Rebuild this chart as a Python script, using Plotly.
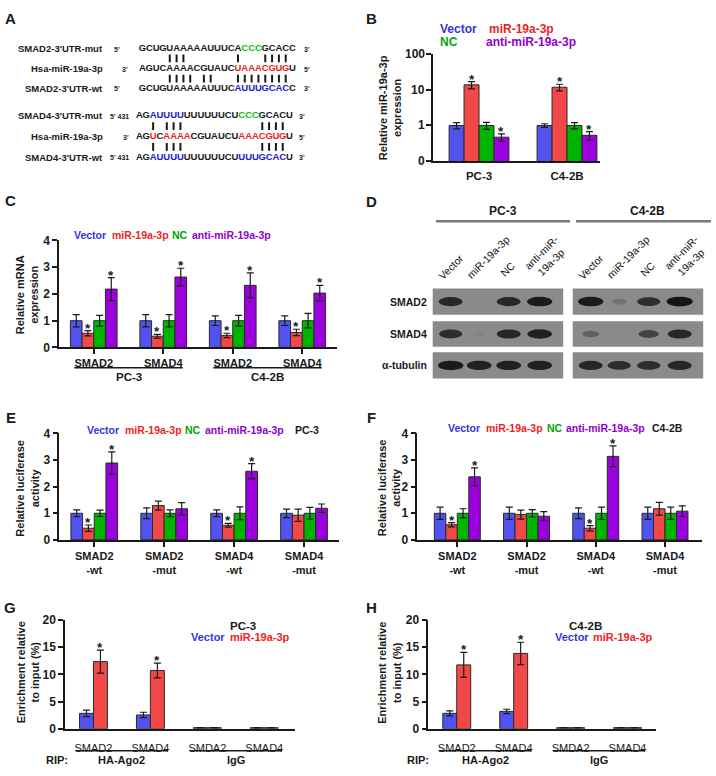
import plotly.graph_objects as go
import numpy as np

W, H = 716, 776
FONT = "Liberation Sans, Arial, Helvetica, sans-serif"
INK = "#1a1a1a"
BAR_COLORS = {"vector": "#5252ee", "mir": "#f24848", "nc": "#00b400", "anti": "#9b00de"}
TXT_COLORS = {"vector": "#3434e0", "mir": "#ee1e1e", "nc": "#00a500", "anti": "#9000d0", "k": INK}
SEQ_COLORS = {"k": "#1a1a1a", "r": "#ee1e1e", "b": "#2020c8", "g": "#10c010"}

# ---------------- DATA ----------------
# Panel A: sequences, per-character colour codes, and paired positions
seq_smad2_mut = "GCUGUAAAAAUUUCACCCGCACC"
seq_mir = "AGUCAAAACGUAUCUAAACGUGU"
seq_smad2_wt = "GCUGUAAAAAUUUCAUUUGCACC"
seq_smad4_mut = "AGAUUUUUUUUUUCUCCCGCACU"
seq_smad4_wt = "AGAUUUUUUUUUUCUUUUGCACU"
col_smad2_mut = "k" * 15 + "ggg" + "k" * 5
col_mir_smad2 = "k" * 14 + "r" * 8 + "k"
col_smad2_wt = "k" * 14 + "b" * 8 + "k"
col_smad4_mut = "kk" + "bbbbb" + "k" * 8 + "ggg" + "k" * 5
col_mir_smad4 = "kk" + "r" + "k" + "rrrr" + "k" * 7 + "r" * 7 + "k"
col_smad4_wt = "kk" + "bbbbb" + "k" * 8 + "b" * 7 + "k"
pairs_smad2_mut = [4, 5, 6, 14, 18, 19, 20, 21]
pairs_smad2_wt = [4, 5, 6, 7, 9, 10, 14, 15, 16, 17, 18, 19, 20, 21]
pairs_smad4_mut = [2, 4, 5, 6, 18, 19, 20, 21]
pairs_smad4_wt = [2, 4, 5, 6, 18, 19, 20, 21]

# Panel B
b_groups = ["PC-3", "C4-2B"]
b_vector = [1.0, 1.0]; b_vector_err = [0.2, 0.12]
b_mir = [13.8, 11.8]; b_mir_err = [3.2, 2.5]
b_nc = [1.0, 1.0]; b_nc_err = [0.22, 0.2]
b_anti = [0.47, 0.53]; b_anti_err = [0.11, 0.14]
b_mir_sig = [True, True]; b_anti_sig = [True, True]
b_ticks = [0.1, 1, 10, 100]; b_ticktext = ["0", "1", "10", "100"]

# Panel C
c_groups = ["SMAD2", "SMAD4", "SMAD2", "SMAD4"]
c_cells = ["PC-3", "C4-2B"]
c_vector = [1.0, 1.0, 1.0, 1.0]; c_vector_err = [0.23, 0.23, 0.18, 0.18]
c_mir = [0.53, 0.42, 0.45, 0.56]; c_mir_err = [0.1, 0.07, 0.08, 0.12]
c_nc = [1.0, 1.0, 1.0, 1.0]; c_nc_err = [0.2, 0.23, 0.2, 0.27]
c_anti = [2.18, 2.63, 2.32, 2.03]; c_anti_err = [0.43, 0.33, 0.47, 0.29]
c_mir_sig = [True, True, True, True]; c_anti_sig = [True, True, True, True]

# Panel D: western blot band intensities (0-1), rows = proteins, cols = lanes
d_lanes = ["Vector", "miR-19a-3p", "NC", "anti-miR-<br>19a-3p"]
d_proteins = ["SMAD2", "SMAD4", "α-tubulin"]
d_pc3 = [[0.85, 0.0, 0.85, 0.95], [0.8, 0.05, 0.85, 0.9], [0.95, 0.9, 0.9, 0.9]]
d_c42b = [[0.95, 0.2, 0.8, 1.0], [0.35, 0.0, 0.6, 0.85], [0.85, 0.8, 0.8, 0.85]]

# Panel E (PC-3 luciferase)
e_groups = ["SMAD2<br>-wt", "SMAD2<br>-mut", "SMAD4<br>-wt", "SMAD4<br>-mut"]
e_vector = [1.0, 1.0, 1.0, 1.0]; e_vector_err = [0.13, 0.2, 0.13, 0.16]
e_mir = [0.44, 1.29, 0.55, 0.93]; e_mir_err = [0.12, 0.17, 0.07, 0.23]
e_nc = [1.0, 1.0, 1.0, 1.0]; e_nc_err = [0.12, 0.13, 0.24, 0.22]
e_anti = [2.89, 1.17, 2.58, 1.19]; e_anti_err = [0.42, 0.23, 0.29, 0.16]
e_mir_sig = [True, False, True, False]; e_anti_sig = [True, False, True, False]

# Panel F (C4-2B luciferase)
f_groups = e_groups
f_vector = [1.0, 1.0, 1.0, 1.0]; f_vector_err = [0.23, 0.23, 0.2, 0.23]
f_mir = [0.57, 0.95, 0.44, 1.17]; f_mir_err = [0.08, 0.17, 0.1, 0.24]
f_nc = [1.0, 1.0, 1.0, 1.0]; f_nc_err = [0.17, 0.14, 0.23, 0.23]
f_anti = [2.37, 0.89, 3.14, 1.08]; f_anti_err = [0.34, 0.17, 0.39, 0.2]
f_mir_sig = [True, False, True, False]; f_anti_sig = [True, False, True, False]

# Panel G / H (RIP)
g_groups = ["SMAD2", "SMAD4", "SMDA2", "SMAD4"]
rip_groups = ["HA-Ago2", "IgG"]
g_vector = [2.83, 2.53, 0.2, 0.2]; g_vector_err = [0.6, 0.5, 0.03, 0.03]
g_mir = [12.35, 10.72, 0.2, 0.2]; g_mir_err = [2.1, 1.35, 0.03, 0.03]
h_vector = [2.83, 3.19, 0.2, 0.2]; h_vector_err = [0.45, 0.4, 0.03, 0.03]
h_mir = [11.75, 13.86, 0.2, 0.2]; h_mir_err = [2.3, 2.05, 0.03, 0.03]
gh_mir_sig = [True, True, False, False]
no_sig = [False, False, False, False]

# ---------------- HELPERS ----------------
def X(px): return px / W
def Y(py): return 1 - py / H

fig = go.Figure()
annotations, shapes = [], []
layout = {}

def ann(text, px, py, size=11, bold=True, color=INK, xanchor="center", yanchor="middle", angle=0, align="center"):
    annotations.append(dict(text=f"<b>{text}</b>" if bold else text, x=X(px), y=Y(py),
                            xref="paper", yref="paper", showarrow=False, xanchor=xanchor,
                            yanchor=yanchor, textangle=angle, align=align, borderpad=0,
                            font=dict(family=FONT, size=size, color=color)))

def sfx(i): return "" if i == 1 else str(i)

def setup_axes(i, box, xr, yr, ticktext, ytickvals, yticktext, ylog=False,
               xticks=True, xbold=True, xfont=11, xticklen=5):
    x0, x1, y0, y1 = box
    s = sfx(i)
    layout["xaxis" + s] = dict(domain=[X(x0), X(x1)], range=xr, anchor="y" + s,
        tickmode="array", tickvals=list(range(len(ticktext))), ticktext=ticktext,
        showline=True, linecolor=INK, linewidth=1.5, ticks="outside", ticklen=xticklen,
        tickwidth=1.5, tickcolor=INK if xticks else "rgba(0,0,0,0)", showgrid=False,
        zeroline=False, fixedrange=True,
        tickfont=dict(family=FONT, size=xfont, color=INK, weight="bold" if xbold else "normal"))
    layout["yaxis" + s] = dict(domain=[Y(y1), Y(y0)], range=yr, anchor="x" + s,
        type="log" if ylog else "linear", tickmode="array", tickvals=ytickvals,
        ticktext=yticktext, showline=True, linecolor=INK, linewidth=1.5, ticks="outside",
        ticklen=5, tickwidth=1.5, tickcolor=INK, showgrid=False, zeroline=False,
        fixedrange=True, ticklabeloverflow="allow",
        tickfont=dict(family=FONT, size=12, color=INK, weight="bold"))

def add_bars(i, groups, series, width, ylog=False):
    s = sfx(i)
    n, m = len(groups), len(series)
    for k, (key, vals, errs, sig) in enumerate(series):
        off = (k - (m - 1) / 2) * width
        xs = np.arange(n) + off
        fig.add_trace(go.Bar(x=xs, y=vals, width=width,
            marker=dict(color=BAR_COLORS[key], line=dict(color="#2a2a2a", width=1)),
            error_y=dict(type="data", array=errs, visible=True, color=INK, thickness=1.2, width=3.5),
            xaxis="x" + s, yaxis="y" + s, showlegend=False, hoverinfo="skip"))
        for xi, v, e, sg in zip(xs, vals, errs, sig):
            if sg:
                yv = v + e
                annotations.append(dict(text="<b>*</b>", x=xi, y=float(np.log10(yv)) if ylog else yv,
                    xref="x" + s, yref="y" + s, showarrow=False, xanchor="center", yanchor="bottom",
                    yshift=-6, borderpad=0, font=dict(family=FONT, size=13.5, color=INK)))

def legend_items(items, py, size=11):
    for text, key, px in items:
        ann(text, px, py, size=size, color=TXT_COLORS[key], xanchor="left")

# ---------------- PANEL LETTERS ----------------
for letter, px, py in [("A", 10, 12), ("B", 372, 12), ("C", 10, 197), ("D", 372, 198),
                       ("E", 11, 418), ("F", 371, 418), ("G", 10, 612), ("H", 372, 612)]:
    ann(letter, px, py, size=15)

# ---------------- PANEL A ----------------
A_BOX = (100, 320, 30, 165)
layout["xaxis9"] = dict(domain=[X(A_BOX[0]), X(A_BOX[1])], range=[A_BOX[0], A_BOX[1]],
                        visible=False, fixedrange=True, anchor="y9")
layout["yaxis9"] = dict(domain=[Y(A_BOX[3]), Y(A_BOX[2])], range=[A_BOX[3], A_BOX[2]],
                        visible=False, fixedrange=True, anchor="x9")
STEP = 6.82
rows = [  # seq, colours, y, first-char centre x
    (seq_smad2_mut, col_smad2_mut, 42.5, 142.5),
    (seq_mir, col_mir_smad2, 63.0, 142.5),
    (seq_smad2_wt, col_smad2_wt, 83.0, 142.5),
    (seq_smad4_mut, col_smad4_mut, 111.0, 139.5),
    (seq_mir, col_mir_smad4, 132.0, 139.5),
    (seq_smad4_wt, col_smad4_wt, 153.0, 139.5),
]
for seq, cols, yy, x0 in rows:
    fig.add_trace(go.Scatter(x=[x0 + STEP * j for j in range(len(seq))], y=[yy] * len(seq),
        mode="text", text=list(seq), textposition="middle center", cliponaxis=False,
        textfont=dict(family=FONT, size=9.5, color=[SEQ_COLORS[c] for c in cols], weight="bold"),
        xaxis="x9", yaxis="y9", showlegend=False, hoverinfo="skip"))
pair_rows = [(pairs_smad2_mut, 52.3, 142.5), (pairs_smad2_wt, 73.0, 142.5),
             (pairs_smad4_mut, 121.3, 139.5), (pairs_smad4_wt, 142.5, 139.5)]
for pairs, yc, x0 in pair_rows:
    xs, ys = [], []
    for p in pairs:
        xs += [x0 + STEP * p, x0 + STEP * p, None]
        ys += [yc - 4, yc + 4, None]
    fig.add_trace(go.Scatter(x=xs, y=ys, mode="lines", line=dict(color=INK, width=2),
        xaxis="x9", yaxis="y9", showlegend=False, hoverinfo="skip", cliponaxis=False))

for text, py in [("SMAD2-3'UTR-mut", 42.5), ("Hsa-miR-19a-3p", 63), ("SMAD2-3'UTR-wt", 83),
                 ("SMAD4-3'UTR-mut", 111), ("Hsa-miR-19a-3p", 132), ("SMAD4-3'UTR-wt", 153)]:
    ann(text, 104, py, size=9.5, xanchor="right")
for text, px, py in [("5'", 117, 43), ("3'", 124.5, 63.5), ("5'", 117, 83.5),
                     ("5' 431", 120, 111.5), ("3'", 126, 132.5), ("5' 431", 120, 153.5),
                     ("3'", 306.5, 43), ("5'", 306.5, 63.5), ("3'", 306.5, 83.5),
                     ("3'", 301.5, 111.5), ("5'", 301.5, 132.5), ("3'", 301.5, 153.5)]:
    ann(text, px, py, size=7)

# ---------------- PANEL B ----------------
B_BOX = (433, 600, 48, 157)
B_YRANGE = [-1.0, 2.0]
setup_axes(1, B_BOX, [-0.523, 1.375], B_YRANGE, b_groups,
           b_ticks, b_ticktext, ylog=True, xticks=False, xfont=11.5, xticklen=3)
layout["yaxis"]["showticklabels"] = False
for tv, tt in zip(b_ticks, b_ticktext):   # decade labels, placed along the log axis
    frac = (np.log10(tv) - B_YRANGE[0]) / (B_YRANGE[1] - B_YRANGE[0])
    py = B_BOX[3] - frac * (B_BOX[3] - B_BOX[2])
    ann(tt, B_BOX[0] - 7, py, size=12, xanchor="right")
add_bars(1, b_groups, [("vector", b_vector, b_vector_err, [False, False]),
                       ("mir", b_mir, b_mir_err, b_mir_sig),
                       ("nc", b_nc, b_nc_err, [False, False]),
                       ("anti", b_anti, b_anti_err, b_anti_sig)], 0.17, ylog=True)
legend_items([("Vector", "vector", 439), ("miR-19a-3p", "mir", 488)], 22.5, size=12)
legend_items([("NC", "nc", 439), ("anti-miR-19a-3p", "anti", 485)], 36, size=12)
ann("Relative miR-19a-3p<br>expression", 390, 102, size=11, angle=-90)

# ---------------- PANEL C ----------------
setup_axes(2, (59, 337, 237.7, 346.7), [-0.5, 3.5], [0, 4], c_groups,
           [0, 1, 2, 3, 4], ["0", "1", "2", "3", "4"], xfont=11)
add_bars(2, c_groups, [("vector", c_vector, c_vector_err, no_sig),
                       ("mir", c_mir, c_mir_err, c_mir_sig),
                       ("nc", c_nc, c_nc_err, no_sig),
                       ("anti", c_anti, c_anti_err, c_anti_sig)], 0.168)
legend_items([("Vector", "vector", 73), ("miR-19a-3p", "mir", 111), ("NC", "nc", 171),
              ("anti-miR-19a-3p", "anti", 191)], 232, size=10.5)
ann("Relative mRNA<br>expression", 26.5, 293, size=11, angle=-90)
for j, cell in enumerate(c_cells):
    cx = 2 * j + 0.5
    shapes.append(dict(type="line", xref="x2", yref="paper", x0=cx - 0.78, x1=cx + 0.78,
                       y0=Y(367.3), y1=Y(367.3), line=dict(color=INK, width=1.5)))
    annotations.append(dict(text=f"<b>{cell}</b>", x=cx, y=Y(377), xref="x2", yref="paper",
                            showarrow=False, xanchor="center", yanchor="middle", borderpad=0,
                            font=dict(family=FONT, size=11.5, color=INK)))

# ---------------- PANEL D ----------------
ann("PC-3", 503, 208, size=12)
ann("C4-2B", 647, 208, size=12)
for x0, x1 in [(436, 570), (576, 711)]:
    shapes.append(dict(type="line", xref="paper", yref="paper", x0=X(x0), x1=X(x1),
                       y0=Y(218.3), y1=Y(218.3), line=dict(color="#7a7a7a", width=2.5)))
blot_left = [432.7, 572.7]
blot_w = 130.5
blot_rows = [(286.7, 313.3), (320, 346), (351.7, 378.3)]
lane_off = [18, 46.5, 76, 107]
label_dx = [0, 9, -1, 7]
label_y = [265, 255, 267, 255]
for bl, data in zip(blot_left, [d_pc3, d_c42b]):
    for (ry0, ry1), intens in zip(blot_rows, data):
        shapes.append(dict(type="rect", xref="paper", yref="paper", x0=X(bl), x1=X(bl + blot_w),
                           y0=Y(ry1), y1=Y(ry0), fillcolor="#8a8a8a", line=dict(width=0), layer="below"))
        cy = (ry0 + ry1) / 2
        for off, val in zip(lane_off, intens):
            if val <= 0:
                continue
            bw = 12 + 14 * val
            bh = 5 + 5 * val
            cx = bl + off
            shapes.append(dict(type="circle", xref="paper", yref="paper", x0=X(cx - bw / 2), x1=X(cx + bw / 2),
                               y0=Y(cy + bh / 2), y1=Y(cy - bh / 2), fillcolor="#151515",
                               opacity=min(1.0, val), line=dict(width=0)))
    for off, lab, dx, ly in zip(lane_off, d_lanes, label_dx, label_y):
        ann(lab, bl + off + dx, ly, size=10.5, bold=False, angle=-45, color="#111")
for prot, (ry0, ry1) in zip(d_proteins, blot_rows):
    ann(prot, 428, (ry0 + ry1) / 2, size=10.5, xanchor="right")

# ---------------- PANEL E ----------------
setup_axes(3, (59.3, 339, 434.3, 542.7), [-0.5, 3.5], [0, 4], e_groups,
           [0, 1, 2, 3, 4], ["0", "1", "2", "3", "4"], xfont=11)
add_bars(3, e_groups, [("vector", e_vector, e_vector_err, no_sig),
                       ("mir", e_mir, e_mir_err, e_mir_sig),
                       ("nc", e_nc, e_nc_err, no_sig),
                       ("anti", e_anti, e_anti_err, e_anti_sig)], 0.167)
legend_items([("Vector", "vector", 86), ("miR-19a-3p", "mir", 124), ("NC", "nc", 184),
              ("anti-miR-19a-3p", "anti", 204), ("PC-3", "k", 294)], 430.7, size=10.5)
ann("Relative luciferase<br>activity", 27.5, 490, size=11, angle=-90)

# ---------------- PANEL F ----------------
setup_axes(4, (417.3, 701.7, 434.3, 542.7), [-0.578, 3.53], [0, 4], f_groups,
           [0, 1, 2, 3, 4], ["0", "1", "2", "3", "4"], xfont=11)
add_bars(4, f_groups, [("vector", f_vector, f_vector_err, no_sig),
                       ("mir", f_mir, f_mir_err, f_mir_sig),
                       ("nc", f_nc, f_nc_err, no_sig),
                       ("anti", f_anti, f_anti_err, f_anti_sig)], 0.166)
legend_items([("Vector", "vector", 447), ("miR-19a-3p", "mir", 485), ("NC", "nc", 545.5),
              ("anti-miR-19a-3p", "anti", 564.5), ("C4-2B", "k", 651)], 429, size=10.5)
ann("Relative luciferase<br>activity", 389, 490, size=11, angle=-90)

# ---------------- PANELS G / H ----------------
for i, box, xr, vec, vec_e, mir, mir_e, title, tx, lx, rip_x in [
        (5, (65, 295, 624.3, 735), [-0.5, 3.54], g_vector, g_vector_err, g_mir, g_mir_err,
         "PC-3", 242.5, (190, 229.3), 56.7),
        (6, (428.3, 656, 624.3, 735), [-0.5, 3.5], h_vector, h_vector_err, h_mir, h_mir_err,
         "C4-2B", 585, (554, 591.7), 418.3)]:
    setup_axes(i, box, xr, [0, 20], g_groups, [0, 5, 10, 15, 20], ["0", "5", "10", "15", "20"],
               xticks=False, xbold=False, xfont=11, xticklen=8)
    add_bars(i, g_groups, [("vector", vec, vec_e, no_sig), ("mir", mir, mir_e, gh_mir_sig)], 0.245)
    ann(title, tx, 630.5, size=11.5)
    legend_items([("Vector", "vector", lx[0]), ("miR-19a-3p", "mir", lx[1])], 641.5, size=11)
    ann("Enrichment relative<br>to input (%)", 27.5 if i == 5 else 389, 678, size=11, angle=-90)
    ann("RIP:", rip_x, 767.3, size=11)
    for j, rg in enumerate(rip_groups):
        cx = 2 * j + 0.5
        shapes.append(dict(type="line", xref="x" + sfx(i), yref="paper", x0=cx - 0.81, x1=cx + 0.81,
                           y0=Y(757.3), y1=Y(757.3), line=dict(color=INK, width=1.5)))
        annotations.append(dict(text=f"<b>{rg}</b>", x=cx, y=Y(767.3), xref="x" + sfx(i), yref="paper",
                                showarrow=False, xanchor="center", yanchor="middle", borderpad=0,
                                font=dict(family=FONT, size=11, color=INK)))

fig.update_layout(width=W, height=H, margin=dict(l=0, r=0, t=0, b=0), autosize=False,
                  paper_bgcolor="white", plot_bgcolor="rgba(0,0,0,0)", barmode="overlay",
                  showlegend=False, font=dict(family=FONT, color=INK),
                  annotations=annotations, shapes=shapes, **layout)
fig.write_html("out.html", config={"displayModeBar": False, "responsive": False},
               post_script="document.body.style.margin='0';")
